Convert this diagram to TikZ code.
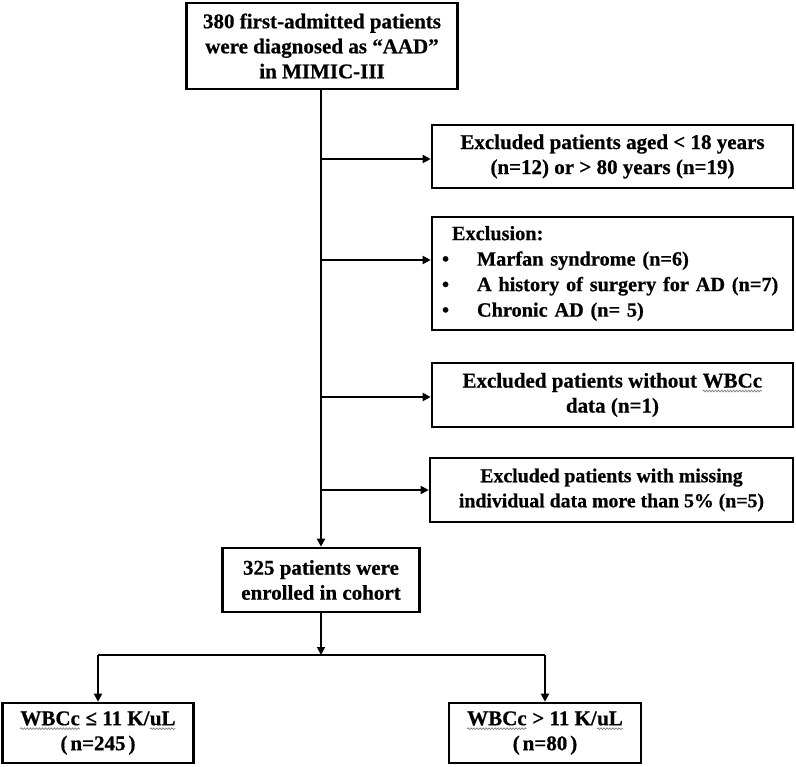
\documentclass[tikz,border=0pt]{standalone}
\usepackage{fontspec}
\setmainfont{Liberation Serif}[BoldFeatures={FakeBold=0.6}]
\usetikzlibrary{arrows.meta,decorations.pathmorphing}
\newcommand\wavy[1]{\tikz[baseline=(w.base),x=1pt,y=1pt]{%
  \node[inner sep=0pt,outer sep=0pt,draw=none,minimum size=0pt,text width={},anchor=base](w){#1};%
  \draw[gray,line width=0.7pt,decorate,decoration={snake,amplitude=0.9pt,segment length=3pt}]
    ([yshift=-3.5pt]w.base west)--([yshift=-3.5pt]w.base east);}}
\begin{document}
\begin{tikzpicture}[x=1pt,y=-1pt,
  font=\bfseries\fontsize{21}{25}\selectfont,
  box/.style={draw, line width=2.6pt, align=center, inner sep=0pt},
  ln/.style={line width=1.8pt},
  arr/.style={ln, -{Triangle[length=8pt,width=8pt]}}]
\useasboundingbox (0,0) rectangle (796,767);
\fill[white] (0,0) rectangle (796,767);

\node[box, minimum width=271pt, minimum height=86pt] (top) at (322,46)
  {380 first-admitted patients\\were diagnosed as “AAD”\\in MIMIC-III};

\node[box, minimum width=361pt, minimum height=63pt] (b1) at (612.5,156.5)
  {Excluded patients aged < 18 years\\(n=12) or > 80 years (n=19)};

\node[box, minimum width=361pt, minimum height=113pt, text width=341pt, align=left, inner xsep=10pt,
  font=\bfseries\fontsize{20.3}{25.5}\selectfont] (b2) at (612.5,273.5)
  {\hspace*{10pt}Exclusion:\\
   \makebox[35pt][l]{\textbullet}Marfan syndrome (n=6)\\
   \makebox[35pt][l]{\textbullet}A history of surgery for AD (n=7)\\
   \makebox[35pt][l]{\textbullet}Chronic AD (n= 5)};

\node[box, minimum width=361pt, minimum height=64pt] (b3) at (612.5,395)
  {Excluded patients without \wavy{WBCc}\\data (n=1)};

\node[box, minimum width=363pt, minimum height=64pt, font=\bfseries\fontsize{19.8}{25}\selectfont] (b4) at (611.5,490)
  {Excluded patients with missing\\individual data more than 5\% (n=5)};

\node[box, minimum width=197pt, minimum height=64pt] (c) at (321,580)
  {325 patients were\\enrolled in cohort};

\node[box, minimum width=191pt, minimum height=60pt] (L) at (98,733)
  {\wavy{WBCc} ≤ 11 K/\wavy{uL}\\(\kern3pt n=245\kern3pt)};

\node[box, minimum width=192pt, minimum height=60pt] (R) at (545,733)
  {\wavy{WBCc} > 11 K/\wavy{uL}\\(\kern3pt n=80\kern3pt)};

\coordinate (j1) at (321,159);
\coordinate (j2) at (321,260);
\coordinate (j3) at (321,397);
\coordinate (j4) at (321,490);
\coordinate (s) at (321,655);

\draw[arr] (top.south -| c.north) -- (c.north);
\draw[arr] (j1) -- (j1 -| b1.west);
\draw[arr] (j2) -- (j2 -| b2.west);
\draw[arr] (j3) -- (j3 -| b3.west);
\draw[arr] (j4) -- (j4 -| b4.west);
\draw[arr] (c.south) -- (s);
\draw[ln] (L.north |- s) -- (R.north |- s);
\draw[arr] (L.north |- s) -- (L.north);
\draw[arr] (R.north |- s) -- (R.north);
\end{tikzpicture}
\end{document}
